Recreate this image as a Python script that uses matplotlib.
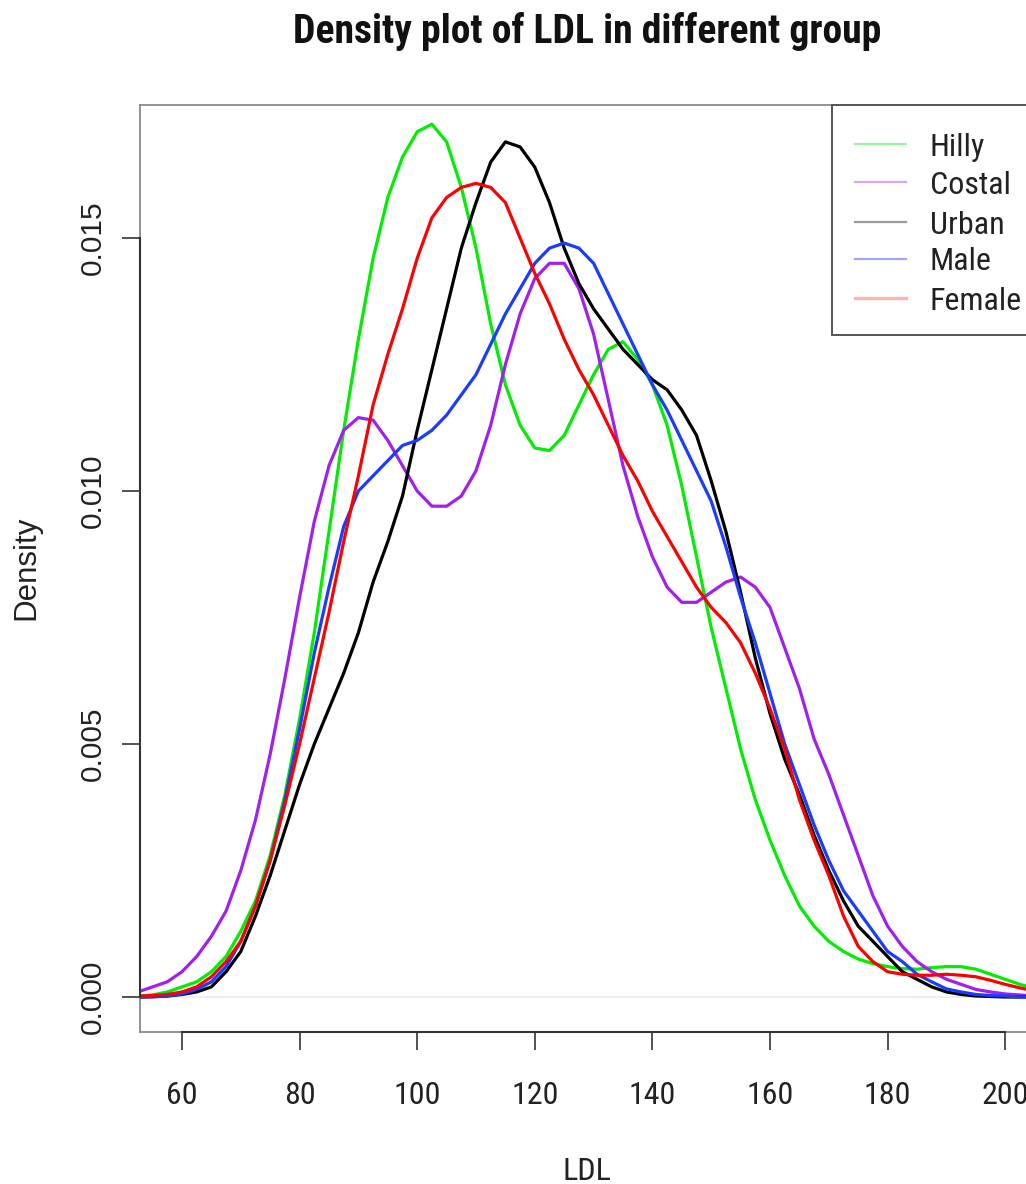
import os
import matplotlib
matplotlib.use("Agg")
import matplotlib.pyplot as plt
from matplotlib import font_manager
from matplotlib.lines import Line2D
from matplotlib.patches import Rectangle

# ── Data ──────────────────────────────────────────────────────────────────────

LDL = [53, 55, 57.5, 60, 62.5, 65, 67.5, 70, 72.5, 75, 77.5, 80, 82.5, 85, 87.5,
       90, 92.5, 95, 97.5, 100, 102.5, 105, 107.5, 110, 112.5, 115, 117.5, 120,
       122.5, 125, 127.5, 130, 132.5, 135, 137.5, 140, 142.5, 145, 147.5, 150,
       152.5, 155, 157.5, 160, 162.5, 165, 167.5, 170, 172.5, 175, 177.5, 180,
       182.5, 185, 187.5, 190, 192.5, 195, 197.5, 200, 202.5, 205]

hilly = [0.00002, 0.00004, 0.0001, 0.0002, 0.0003, 0.0005, 0.0008, 0.0013, 0.0019, 0.0028,
         0.0040, 0.0055, 0.0072, 0.0092, 0.0112, 0.0130, 0.0146, 0.0158, 0.0166, 0.0171,
         0.01725, 0.0169, 0.0160, 0.0148, 0.0133, 0.0121, 0.0113, 0.01085, 0.0108, 0.0111,
         0.0117, 0.0123, 0.0128, 0.01295, 0.0126, 0.0121, 0.0113, 0.0101, 0.0087, 0.0073,
         0.0061, 0.0049, 0.0039, 0.0031, 0.0024, 0.0018, 0.0014, 0.0011, 0.0009, 0.00075,
         0.00066, 0.0006, 0.00056, 0.00055, 0.00058, 0.0006, 0.0006, 0.00055, 0.00045, 0.00035,
         0.00025, 0.00017]

costal = [0.00012, 0.0002, 0.0003, 0.0005, 0.0008, 0.0012, 0.0017, 0.0025, 0.0035, 0.0048,
          0.0063, 0.0079, 0.0094, 0.0105, 0.0112, 0.01145, 0.0114, 0.0110, 0.0105, 0.0100,
          0.0097, 0.0097, 0.0099, 0.0104, 0.0113, 0.0125, 0.0135, 0.0142, 0.0145, 0.0145,
          0.0140, 0.0131, 0.0118, 0.0105, 0.0095, 0.0087, 0.0081, 0.0078, 0.0078, 0.0080,
          0.0082, 0.0083, 0.0081, 0.0077, 0.0069, 0.0061, 0.0051, 0.0044, 0.0036, 0.0028,
          0.0020, 0.0014, 0.0010, 0.0007, 0.0005, 0.00035, 0.00025, 0.00015, 0.0001, 0.00006,
          0.00004, 0.00002]

urban = [0.0, 0.00001, 0.00002, 0.00005, 0.0001, 0.0002, 0.0005, 0.0009, 0.0016, 0.0024,
         0.0033, 0.0042, 0.0050, 0.0057, 0.0064, 0.0072, 0.0082, 0.0090, 0.0099, 0.0112,
         0.0124, 0.0136, 0.0148, 0.0157, 0.0165, 0.0169, 0.0168, 0.0164, 0.0157, 0.0148,
         0.0141, 0.0136, 0.0132, 0.0128, 0.0125, 0.0122, 0.0120, 0.0116, 0.0111, 0.0102,
         0.0092, 0.0080, 0.0067, 0.0056, 0.0047, 0.0040, 0.0032, 0.0025, 0.0019, 0.0014,
         0.0011, 0.0008, 0.0005, 0.00035, 0.0002, 0.0001, 0.00005, 0.00002, 0.00001, 0.0,
         0.0, 0.0]

male = [0.0, 0.0, 0.00002, 0.00006, 0.00015, 0.0003, 0.0006, 0.0011, 0.0018, 0.0027,
        0.0039, 0.0053, 0.0068, 0.0081, 0.0093, 0.0100, 0.0103, 0.0106, 0.0109, 0.0110,
        0.0112, 0.0115, 0.0119, 0.0123, 0.0129, 0.0135, 0.0140, 0.0145, 0.0148, 0.0149,
        0.0148, 0.0145, 0.0139, 0.0133, 0.0127, 0.0121, 0.0116, 0.0110, 0.0104, 0.0098,
        0.0089, 0.0079, 0.0070, 0.0060, 0.0050, 0.0042, 0.0034, 0.0027, 0.0021, 0.0017,
        0.0013, 0.0009, 0.0007, 0.00045, 0.0003, 0.00016, 0.0001, 0.00005, 0.00003, 0.00002,
        0.0, 0.0]

female = [0.00002, 0.00003, 0.00005, 0.0001, 0.0002, 0.0004, 0.0007, 0.0011, 0.0018, 0.0027,
          0.0038, 0.0050, 0.0063, 0.0076, 0.0090, 0.0103, 0.0117, 0.0127, 0.0136, 0.0146,
          0.0154, 0.0158, 0.0160, 0.01608, 0.0160, 0.0157, 0.0150, 0.0143, 0.0137, 0.0130,
          0.0124, 0.0119, 0.0113, 0.0107, 0.0102, 0.0096, 0.0091, 0.0086, 0.0081, 0.0077,
          0.0074, 0.0070, 0.0064, 0.0057, 0.0049, 0.0039, 0.0031, 0.0024, 0.0016, 0.0010,
          0.0007, 0.0005, 0.00045, 0.00043, 0.00043, 0.00045, 0.00043, 0.0004, 0.00033, 0.00025,
          0.00018, 0.00012]

GROUPS = ["Hilly", "Costal", "Urban", "Male", "Female"]
SERIES = [hilly, costal, urban, male, female]
COLORS = ["#00ee00", "#a020f0", "#000000", "#1a3cff", "#ff0000"]
LEGEND_COLORS = ["#9af59a", "#d6a6f5", "#9a9a9a", "#9aa8ff", "#ffb3b3"]

X_TICKS = [60, 80, 100, 120, 140, 160, 180, 200]
Y_TICKS = [0.0, 0.005, 0.010, 0.015]
Y_TICK_LABELS = ["0.000", "0.005", "0.010", "0.015"]

# ── Fonts: the reference text is horizontally squeezed (Arial Narrow look) ────

def find_font(stems, bold):
    bad = ("italic", "oblique", "light", "thin", "medium", "black", "semi", "extra")
    for stem in stems:
        for f in font_manager.fontManager.ttflist:
            base = os.path.basename(f.fname).lower().replace("_", "").replace(" ", "")
            if not base.startswith(stem) or any(b in base for b in bad):
                continue
            if ("bold" in base) == bold:
                return font_manager.FontProperties(fname=f.fname)
    return None


NARROW_STEMS = ["liberationsansnarrow", "arialnarrow", "robotocondensed"]
narrow_reg = find_font(NARROW_STEMS, False)
narrow_bold = find_font(NARROW_STEMS, True)
HAVE_NARROW = narrow_reg is not None and narrow_bold is not None
if not HAVE_NARROW:
    narrow_reg = font_manager.FontProperties(family="Liberation Sans")
    narrow_bold = font_manager.FontProperties(family="Liberation Sans", weight="bold")
SHRINK = 1.0 if HAVE_NARROW else 0.84

regular = font_manager.FontProperties(family="Liberation Sans")


def fp(base, size):
    p = base.copy()
    p.set_size(size)
    return p

# ── Layout (pixels of the 1026 x 1184 picture) ────────────────────────────────

W, H = 1026, 1184


def fx(px):
    return px / W


def fy(py):
    return 1 - py / H


fig = plt.figure(figsize=(W / 100, H / 100), dpi=100, facecolor="white")
ax = fig.add_axes([fx(140), fy(1032), (1040 - 140) / W, (1032 - 105) / H])

XMIN, XMAX = 60 - 42 / 5.88, 60 + (1040 - 182) / 5.88
YMIN, YMAX = -35 / 50600, 892 / 50600
ax.set_xlim(XMIN, XMAX)
ax.set_ylim(YMIN, YMAX)

ax.axhline(0, color="#eeeeee", linewidth=1.4, zorder=1)
for vals, color in zip(SERIES, COLORS):
    ax.plot(LDL, vals, color=color, linewidth=2.3, zorder=3,
            solid_capstyle="round", solid_joinstyle="round")

# box (lighter) and axis lines (darker, tick range only), as R draws them
for s in ax.spines.values():
    s.set_color("#8a8a8a")
    s.set_linewidth(1.3)
ax.plot([XMIN, XMIN], [0, 0.015], color="#333333", linewidth=1.5, clip_on=False, zorder=4)
ax.plot([60, 200], [YMIN, YMIN], color="#333333", linewidth=1.5, clip_on=False, zorder=4)

ax.set_xticks(X_TICKS)
ax.set_xticklabels([str(t) for t in X_TICKS], fontproperties=fp(narrow_reg, 23 * SHRINK),
                   color="#222222")
ax.set_yticks(Y_TICKS)
ax.set_yticklabels(Y_TICK_LABELS, fontproperties=fp(regular, 21.5), color="#222222",
                   rotation=90, va="center")
ax.tick_params(axis="both", direction="out", length=13, width=1.3, color="#444444")
ax.tick_params(axis="x", pad=22 + (1 - SHRINK) * 14)
ax.tick_params(axis="y", pad=11)

# titles
fig.text(fx(587), fy(43), "Density plot of LDL in different group",
         fontproperties=fp(narrow_bold, 28.5 * SHRINK), ha="center", va="baseline",
         color="#111111")
fig.text(fx(587), fy(1180), "LDL", fontproperties=fp(narrow_reg, 23 * SHRINK),
         ha="center", va="baseline", color="#222222")
fig.text(fx(26), fy(568), "Density", fontproperties=fp(regular, 22.5), rotation=90,
         ha="center", va="center", color="#222222")

# legend box, cut by the right edge as in the reference
fig.patches.append(Rectangle((fx(832), fy(335)), (1100 - 832) / W, (335 - 105) / H,
                             transform=fig.transFigure, facecolor="white",
                             edgecolor="#555555", linewidth=1.4, zorder=5))
ENTRY_Y = [144, 182, 222, 259, 298]
for name, color, py in zip(GROUPS, LEGEND_COLORS, ENTRY_Y):
    lw = 2.4 if name == "Female" else 1.6
    fig.lines.append(Line2D([fx(855), fx(906)], [fy(py), fy(py)], transform=fig.transFigure,
                            color=color, linewidth=lw, zorder=6))
    fig.text(fx(930), fy(py), name, fontproperties=fp(narrow_reg, 23 * SHRINK), ha="left",
             va="center_baseline", color="#222222", zorder=6)

fig.savefig("out.png", dpi=100, facecolor="white")
